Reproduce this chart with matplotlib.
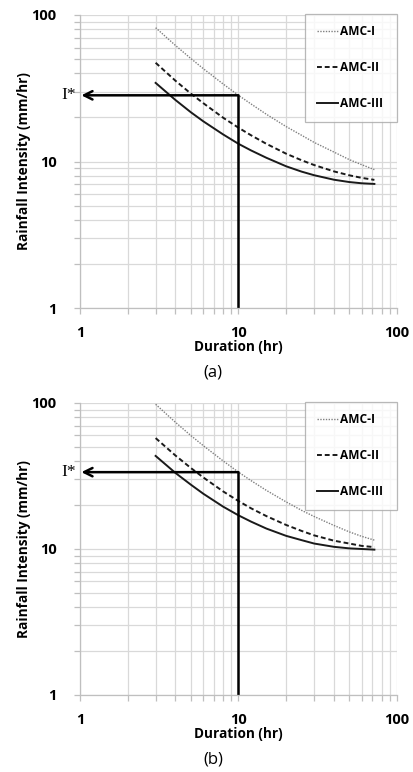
import matplotlib
matplotlib.use("Agg")
import matplotlib.pyplot as plt
from matplotlib.ticker import LogLocator, NullFormatter, FixedLocator, FixedFormatter

plt.rcParams['font.family'] = ['Open Sans', 'DejaVu Sans']

# Rainfall intensity-duration curves for three antecedent moisture conditions
duration = [3, 4, 5, 6, 8, 10, 12, 15, 20, 25, 30, 40, 50, 60, 72]

amc1_a = [81.9, 62.0, 50.5, 43.0, 33.8, 28.3, 24.7, 21.0, 17.3, 15.1, 13.5, 11.6, 10.3, 9.5, 8.8]
amc2_a = [47.2, 35.6, 29.1, 25.0, 19.9, 17.0, 15.1, 13.2, 11.3, 10.2, 9.46, 8.56, 8.05, 7.73, 7.49]
amc3_a = [34.4, 26.3, 21.7, 18.8, 15.3, 13.2, 11.9, 10.6, 9.27, 8.53, 8.06, 7.51, 7.24, 7.10, 7.03]

amc1_b = [98.0, 73.8, 59.9, 51.0, 40.1, 33.6, 29.4, 25.2, 21.0, 18.4, 16.7, 14.5, 13.1, 12.2, 11.5]
amc2_b = [57.5, 43.7, 35.9, 30.9, 24.8, 21.3, 19.0, 16.8, 14.6, 13.3, 12.4, 11.4, 10.9, 10.5, 10.3]
amc3_b = [43.4, 33.2, 27.6, 23.9, 19.5, 17.0, 15.4, 13.8, 12.3, 11.5, 10.9, 10.35, 10.1, 10.0, 9.9]

# Design duration and the intensity
design_duration = 10
istar_a = 28.3
istar_b = 33.6

series_labels = ["AMC-I", "AMC-II", "AMC-III"]
tick_values = [1, 10, 100]
tick_labels = ["1", "10", "100"]

W, H = 414, 772
fig = plt.figure(figsize=(W / 100, H / 100), dpi=100)

grid_c = "#d9d9d9"


def panel(rect, c1, c2, c3, istar, caption, caption_y):
    ax = fig.add_axes(rect)
    ax.set_xscale("log")
    ax.set_yscale("log")
    ax.set_xlim(1, 100)
    ax.set_ylim(1, 100)

    ax.xaxis.set_major_locator(FixedLocator(tick_values))
    ax.xaxis.set_major_formatter(FixedFormatter(tick_labels))
    ax.yaxis.set_major_locator(FixedLocator(tick_values))
    ax.yaxis.set_major_formatter(FixedFormatter(tick_labels))
    ax.xaxis.set_minor_locator(LogLocator(base=10, subs=range(2, 10)))
    ax.yaxis.set_minor_locator(LogLocator(base=10, subs=range(2, 10)))
    ax.xaxis.set_minor_formatter(NullFormatter())
    ax.yaxis.set_minor_formatter(NullFormatter())

    ax.grid(True, which="both", color=grid_c, lw=0.9)
    ax.set_axisbelow(True)
    for s in ["top", "right"]:
        ax.spines[s].set_visible(False)
    for s in ["left", "bottom"]:
        ax.spines[s].set_color("#bfbfbf")
        ax.spines[s].set_linewidth(0.9)

    ax.tick_params(axis="y", which="both", direction="out", length=4,
                   color="#bfbfbf", width=0.9, pad=13, labelsize=10.5)
    ax.tick_params(axis="x", which="both", direction="out", length=4,
                   color="#bfbfbf", width=0.9, pad=9, labelsize=10.5)
    for lab in ax.get_xticklabels() + ax.get_yticklabels():
        lab.set_fontweight("bold")

    ax.plot(duration, c1, color="#7f7f7f", lw=1.0, ls=(0, (1, 1)),
            label=series_labels[0])
    ax.plot(duration, c2, color="#1a1a1a", lw=1.4, ls=(0, (2.5, 1.5)),
            label=series_labels[1])
    ax.plot(duration, c3, color="#1a1a1a", lw=1.4, ls="-",
            label=series_labels[2])

    # design duration line and intensity read-off arrow
    ax.plot([design_duration, design_duration], [1, istar], color="black",
            lw=1.8, solid_capstyle="butt")
    ax.annotate("", xy=(1.02, istar), xytext=(design_duration, istar),
                arrowprops=dict(arrowstyle="->", color="black", lw=1.8,
                                mutation_scale=15, shrinkA=0, shrinkB=0))
    ax.text(-0.012, istar, "I*", transform=ax.get_yaxis_transform(),
            ha="right", va="center", fontsize=12.5,
            family=["Liberation Serif", "DejaVu Serif"])

    ax.set_xlabel("Duration (hr)", fontsize=9.8, fontweight="bold", labelpad=0)
    ax.set_ylabel("Rainfall Intensity (mm/hr)", fontsize=9.8,
                  fontweight="bold", labelpad=0)

    leg = ax.legend(loc="upper left", bbox_to_anchor=(225 / 317, 0, 92 / 317, 1.005),
                    mode="expand", fontsize=8.6, frameon=True, fancybox=False,
                    handlelength=1.8, handletextpad=0.15, labelspacing=1.9,
                    borderpad=1.0, borderaxespad=0)
    leg.get_frame().set_edgecolor("#a6a6a6")
    leg.get_frame().set_linewidth(0.9)
    for t in leg.get_texts():
        t.set_fontweight("bold")

    fig.text(213 / W, caption_y, caption, ha="center", va="center", fontsize=12)
    return ax


panel([80 / W, 1 - 308 / H, 317 / W, 293 / H], amc1_a, amc2_a, amc3_a,
      istar_a, "(a)", 1 - 373 / H)
panel([80 / W, 1 - 695 / H, 317 / W, 292 / H], amc1_b, amc2_b, amc3_b,
      istar_b, "(b)", 1 - 760 / H)

fig.savefig("out.png", dpi=100)
